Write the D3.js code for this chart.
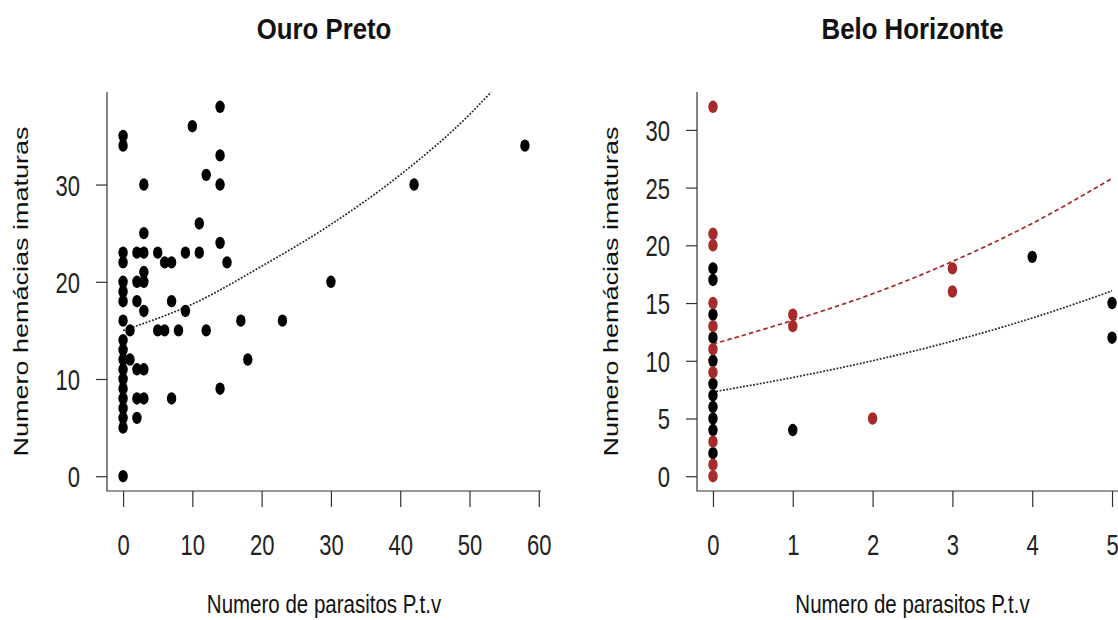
<!DOCTYPE html>
<html>
<head>
<meta charset="utf-8">
<script src="https://cdnjs.cloudflare.com/ajax/libs/d3/7.8.5/d3.min.js"></script>
<style>
  body { margin: 0; background: #fff; }
  text { font-family: "Liberation Sans", Arial, sans-serif; }
</style>
</head>
<body>
<div id="chart"></div>
<script>
// --- Ouro Preto: parasites vs immature red cells
var opParasitos = [0,0,0,0,0,0,0,0,0,0,0,0,0,0,0,0,0,0,0,
  1,1, 2,2,2,2,2,2, 3,3,3,3,3,3,3,3, 5,5, 6,6, 7,7,7, 8, 9,9, 10, 11,11, 12,12,
  14,14,14,14,14, 15, 17, 18, 23, 30, 42, 58];
var opHemacias = [35,34,23,22,20,19,18,16,14,13,12,11,10,9,8,7,6,5,0,
  15,12, 23,20,18,11,8,6, 30,25,23,21,20,17,11,8, 23,15, 22,15, 22,18,8, 15, 23,17, 36, 26,23, 31,15,
  38,33,30,24,9, 22, 16, 12, 16, 20, 30, 34];
// fitted curve
var opCurveX = [0, 10, 20, 30, 40, 50, 53.1];
var opCurveY = [15.0, 17.7, 21.6, 25.9, 31.0, 37.2, 39.5];

// --- Belo Horizonte: two groups
var bhBlackX = [0,0,0,0,0,0,0,0,0,0,0, 1, 4, 5,5];
var bhBlackY = [18,17,14,12,10,8,7,6,5,4,2, 4, 19, 15,12];
var bhRedX = [0,0,0,0,0,0,0,0,0,0, 1,1, 2, 3,3];
var bhRedY = [32,21,20,15,13,11,9,3,1,0, 14,13, 5, 18,16];
var bhCurveX = [0, 1, 2, 3, 4, 5];
var bhCurveBlack = [7.3, 8.55, 10.0, 11.7, 13.7, 16.05];
var bhCurveRed = [11.45, 13.5, 15.8, 18.6, 21.9, 25.8];

// tick labels
var opXTicks = [0, 10, 20, 30, 40, 50, 60];
var opYTicks = [0, 10, 20, 30];
var bhXTicks = [0, 1, 2, 3, 4, 5];
var bhYTicks = [0, 5, 10, 15, 20, 25, 30];

var width = 1118, height = 620;
var brown = "#a52a2a";
var axisColor = "#333";

var svg = d3.select("#chart").append("svg")
  .attr("width", width)
  .attr("height", height);

// R style: axis range is data range plus 4% each side
function rRange(vals) {
  var e = d3.extent(vals);
  var pad = (e[1] - e[0]) * 0.04;
  return [e[0] - pad, e[1] + pad];
}

function drawPanel(p) {
  var x = d3.scaleLinear().domain(rRange(p.xs)).range([p.left, p.right]);
  var y = d3.scaleLinear().domain(rRange(p.ys)).range([p.bottom, p.top]);
  var g = svg.append("g");

  // L shaped box
  g.append("path")
    .attr("d", "M" + p.left + "," + p.top + "V" + p.bottom + "H" + p.right)
    .attr("fill", "none")
    .attr("stroke", axisColor)
    .attr("stroke-width", 1.2);

  // x axis ticks
  var ax = g.append("g")
    .attr("transform", "translate(0," + p.bottom + ")")
    .call(d3.axisBottom(x).tickValues(p.xTicks).tickSize(16).tickPadding(27).tickFormat(d3.format("d")));
  ax.select(".domain").remove();
  ax.selectAll("line").attr("stroke", axisColor).attr("stroke-width", 1.2);
  ax.selectAll("text")
    .attr("fill", "#222")
    .style("font-size", "29px")
    .attr("transform", "scale(0.76,1)");

  // y axis ticks
  var ay = g.append("g")
    .attr("transform", "translate(" + p.left + ",0)")
    .call(d3.axisLeft(y).tickValues(p.yTicks).tickSize(11).tickFormat(d3.format("d")));
  ay.select(".domain").remove();
  ay.selectAll("line").attr("stroke", axisColor).attr("stroke-width", 1.2);
  ay.selectAll("text")
    .attr("fill", "#222")
    .style("font-size", "29px")
    .attr("x", -27 / 0.76)
    .attr("dy", "0.36em")
    .attr("transform", "scale(0.76,1)");

  var cx = (p.left + p.right) / 2;
  // title
  svg.append("text")
    .attr("transform", "translate(" + cx + ",39) scale(0.86,1)")
    .attr("text-anchor", "middle")
    .style("font-size", "30px")
    .style("font-weight", "bold")
    .attr("fill", "#111")
    .text(p.title);
  // x label
  svg.append("text")
    .attr("transform", "translate(" + cx + ",613) scale(0.82,1)")
    .attr("text-anchor", "middle")
    .style("font-size", "25px")
    .attr("fill", "#111")
    .text("Numero de parasitos P.t.v");
  // y label
  svg.append("text")
    .attr("transform", "translate(" + (p.left - 79) + "," + ((p.top + p.bottom) / 2) + ") scale(0.72,1) rotate(-90)")
    .attr("text-anchor", "middle")
    .style("font-size", "27px")
    .attr("fill", "#111")
    .text("Numero hemácias imaturas");

  var line = d3.line()
    .x(function(d) { return x(d[0]); })
    .y(function(d) { return y(d[1]); })
    .curve(d3.curveMonotoneX);

  p.curves.forEach(function(c) {
    g.append("path")
      .datum(d3.zip(c.xs, c.ys))
      .attr("d", line)
      .attr("fill", "none")
      .attr("stroke", c.color)
      .attr("stroke-width", 1.7)
      .attr("stroke-dasharray", c.dash);
  });

  p.groups.forEach(function(s) {
    g.selectAll(null)
      .data(d3.zip(s.xs, s.ys))
      .enter()
      .append("ellipse")
      .attr("cx", function(d) { return x(d[0]); })
      .attr("cy", function(d) { return y(d[1]); })
      .attr("rx", 4.7)
      .attr("ry", 6.2)
      .attr("fill", s.color);
  });
}

drawPanel({
  title: "Ouro Preto",
  left: 107, right: 541, top: 92, bottom: 491,
  xs: opParasitos, ys: opHemacias,
  xTicks: opXTicks, yTicks: opYTicks,
  curves: [{ xs: opCurveX, ys: opCurveY, color: "#222", dash: "1.8,1.6" }],
  groups: [{ xs: opParasitos, ys: opHemacias, color: "#000" }]
});

drawPanel({
  title: "Belo Horizonte",
  left: 697, right: 1128, top: 92, bottom: 491,
  xs: bhBlackX.concat(bhRedX), ys: bhBlackY.concat(bhRedY),
  xTicks: bhXTicks, yTicks: bhYTicks,
  curves: [
    { xs: bhCurveX, ys: bhCurveRed, color: brown, dash: "4.5,3" },
    { xs: bhCurveX, ys: bhCurveBlack, color: "#222", dash: "1.8,1.6" }
  ],
  groups: [
    { xs: bhBlackX, ys: bhBlackY, color: "#000" },
    { xs: bhRedX, ys: bhRedY, color: brown }
  ]
});
</script>
</body>
</html>
